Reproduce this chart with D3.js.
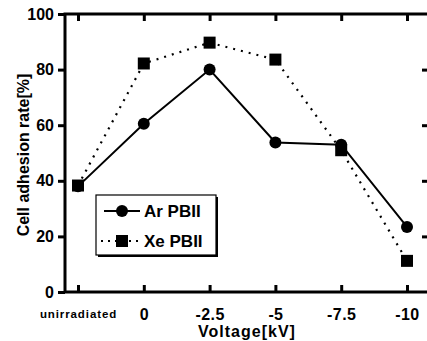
<!DOCTYPE html>
<html><head><meta charset="utf-8">
<script src="https://cdn.jsdelivr.net/npm/d3@7"></script>
<style>body{margin:0;background:#fff}svg{display:block}text{font-family:Arial,"Liberation Sans",sans-serif;font-weight:bold;fill:#000}</style>
</head><body><svg id="c" width="427" height="341"></svg>
<script>
const categories = ["unirradiated","0","-2.5","-5","-7.5","-10"];
const arValues = [38, 60.5, 80, 53.8, 53, 23.4];
const xeValues = [38.3, 82.2, 89.7, 83.6, 51, 11.2];
const yTicks = [0,20,40,60,80,100];
const seriesNames = ["Ar PBII","Xe PBII"];

const svg = d3.select("#c");
const L=65, R=429, T=14, B=292;
const x = d3.scalePoint().domain(categories).range([78,407]);
const y = d3.scaleLinear().domain([0,100]).range([B,T]);

// frame
svg.append("rect").attr("x",L).attr("y",T).attr("width",R-L).attr("height",B-T)
 .attr("fill","none").attr("stroke","#000").attr("stroke-width",3);

// bottom axis: ticks inward
const xb = d3.axisBottom(x).tickSize(-7).tickFormat(d=>d);
const gx = svg.append("g").attr("transform",`translate(0,${B})`).call(xb);
gx.select(".domain").remove();
gx.selectAll(".tick line").attr("stroke-width",3);
gx.selectAll(".tick text").attr("font-size",16).attr("dy",null).attr("y",28).attr("letter-spacing",0.4);
gx.selectAll(".tick text").filter(d=>d==="unirradiated").attr("font-size",11.5).attr("y",26).attr("letter-spacing",0.9);
// top ticks inward
const xt = d3.axisTop(x).tickSize(-7).tickFormat("");
const gxt = svg.append("g").attr("transform",`translate(0,${T})`).call(xt);
gxt.select(".domain").remove();
gxt.selectAll(".tick line").attr("stroke-width",3);

// left axis ticks outward
const yl = d3.axisLeft(y).tickValues(yTicks).tickSize(7).tickPadding(4);
const gy = svg.append("g").attr("transform",`translate(${L},0)`).call(yl);
gy.select(".domain").remove();
gy.selectAll(".tick line").attr("stroke-width",3);
gy.selectAll(".tick text").attr("font-size",16);
// right ticks inward
const yr = d3.axisRight(y).tickValues(yTicks.slice(1,5)).tickSize(-7).tickFormat("");
const gyr = svg.append("g").attr("transform",`translate(${R},0)`).call(yr);
gyr.select(".domain").remove();
gyr.selectAll(".tick line").attr("stroke-width",3);

// titles
svg.append("text").attr("x",247).attr("y",337).attr("text-anchor","middle").attr("font-size",16).attr("letter-spacing",1).text("Voltage[kV]");
svg.append("text").attr("transform","translate(29,155) rotate(-90)").attr("text-anchor","middle").attr("font-size",16).text("Cell adhesion rate[%]");

const line = d3.line().x((d,i)=>x(categories[i])).y(d=>y(d));
// Xe dotted
svg.append("path").datum(xeValues).attr("d",line).attr("fill","none").attr("stroke","#000")
 .attr("stroke-width",2.2).attr("stroke-dasharray","2,6");
// Ar solid
svg.append("path").datum(arValues).attr("d",line).attr("fill","none").attr("stroke","#000").attr("stroke-width",2);
svg.selectAll("circle.ar").data(arValues).enter().append("circle")
 .attr("cx",(d,i)=>x(categories[i])).attr("cy",d=>y(d)).attr("r",6).attr("fill","#000");
svg.selectAll("rect.xe").data(xeValues).enter().append("rect")
 .attr("x",(d,i)=>x(categories[i])-6).attr("y",d=>y(d)-6).attr("width",12).attr("height",12).attr("fill","#000");

// legend
const lg = svg.append("g");
lg.append("rect").attr("x",98).attr("y",197).attr("width",120).attr("height",60).attr("fill","#000");
lg.append("rect").attr("x",96).attr("y",195).attr("width",120).attr("height",60).attr("fill","#fff").attr("stroke","#000").attr("stroke-width",1.2);
lg.append("line").attr("x1",104).attr("x2",140).attr("y1",211).attr("y2",211).attr("stroke","#000").attr("stroke-width",2);
lg.append("circle").attr("cx",122).attr("cy",211).attr("r",6).attr("fill","#000");
lg.append("line").attr("x1",101).attr("x2",141).attr("y1",241).attr("y2",241).attr("stroke","#000").attr("stroke-width",2).attr("stroke-dasharray","2,5");
lg.append("rect").attr("x",116).attr("y",235).attr("width",12).attr("height",12).attr("fill","#000");
lg.selectAll("text.lg").data(seriesNames).enter().append("text")
 .attr("x",144).attr("y",(d,i)=>217+i*30).attr("font-size",17).text(d=>d);
</script></body></html>
